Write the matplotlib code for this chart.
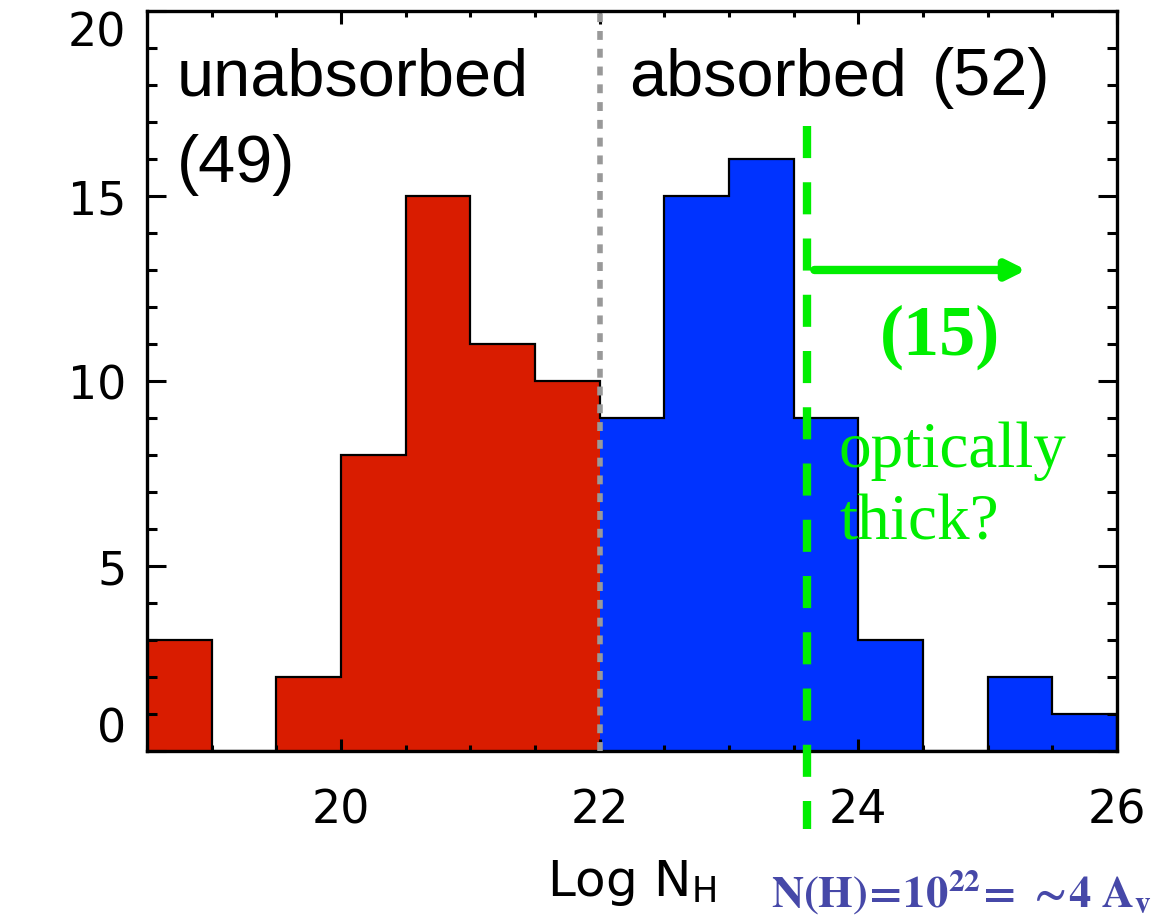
import numpy as np
import matplotlib
matplotlib.use('Agg')
import matplotlib.pyplot as plt
from matplotlib.ticker import MultipleLocator

# ---- histogram of log column density ----
edges = np.arange(18.5, 26.01, 0.5)
counts_unabs = [3, 0, 2, 8, 15, 11, 10]          # 18.5 - 22.0
counts_abs = [9, 15, 16, 9, 3, 0, 2, 1]          # 22.0 - 26.0
n_unabs, n_abs, n_thick = 49, 52, 15

split = 22.0          # absorbed / unabsorbed boundary
thick_line = 23.6     # N(H) where optical thickness is expected
arrow_y = 13.0
arrow_x_end = 25.3

RED = '#D91C00'
BLUE = '#0033FF'
GREEN = '#00EE00'
NAVY = '#4648A8'

plt.rcParams['mathtext.fontset'] = 'stix'

fig = plt.figure(figsize=(11.65, 9.2), dpi=100)
ax = fig.add_axes([0.1262, 0.1826, 0.8326, 0.8044])

n_red = len(counts_unabs)
ax.stairs(counts_unabs, edges[:n_red + 1], fill=True, color=RED, lw=0)
ax.stairs(counts_abs, edges[n_red:], fill=True, color=BLUE, lw=0)
ax.stairs(counts_unabs + counts_abs, edges, color='black', lw=1.6, baseline=0)

ax.set_xlim(18.5, 26.0)
ax.set_ylim(0, 20)

ax.xaxis.set_major_locator(MultipleLocator(2))
ax.xaxis.set_minor_locator(MultipleLocator(0.5))
ax.yaxis.set_major_locator(MultipleLocator(5))
ax.yaxis.set_minor_locator(MultipleLocator(1))
ax.tick_params(axis='both', which='both', direction='in', top=True, right=True,
               width=2.2, color='black')
ax.tick_params(axis='x', which='major', length=9, pad=26, labelsize=33)
ax.tick_params(axis='x', which='minor', length=4.5)
ax.tick_params(axis='y', which='major', length=14, pad=15, labelsize=33)
ax.tick_params(axis='y', which='minor', length=7.5)
for sp in ax.spines.values():
    sp.set_linewidth(2.4)

ax.set_xlabel(r'Log N$_\mathregular{H}$', fontsize=36)
ax.xaxis.label.set_va('baseline')
ax.xaxis.set_label_coords(0.5, -0.195)

# boundary between the two populations
ax.axvline(split, color='#999999', lw=4, ls=(0, (1.6, 1.6)), zorder=5)

# optically thick threshold, running below the axis
ax.plot([thick_line, thick_line], [16.9, -2.1], color=GREEN, lw=6,
        ls=(0, (3.85, 2.9)), clip_on=False, zorder=6)
ax.annotate('', xy=(arrow_x_end, arrow_y), xytext=(23.66, arrow_y),
            arrowprops=dict(arrowstyle='-|>,head_length=1.1,head_width=0.55',
                            color=GREEN, lw=6, shrinkA=0, shrinkB=0), zorder=6)

ax.text(18.73, 17.75, 'unabsorbed', fontsize=48, family='Liberation Sans',
        va='baseline', ha='left')
ax.text(18.73, 15.4, f'({n_unabs})', fontsize=48, family='Liberation Sans',
        va='baseline', ha='left')
ax.text(22.23, 17.75, 'absorbed', fontsize=48, family='Liberation Sans',
        va='baseline', ha='left')
ax.text(24.57, 17.75, f'({n_abs})', fontsize=48, family='Liberation Sans',
        va='baseline', ha='left')

ax.text(24.63, 11.2, f'({n_thick})', fontsize=52, family='Liberation Serif',
        weight='bold', color=GREEN, ha='center', va='center', zorder=7)
ax.text(23.85, 7.7, 'optically', fontsize=47, family='Liberation Serif',
        color=GREEN, ha='left', va='baseline', zorder=7)
ax.text(23.85, 5.73, 'thick?', fontsize=47, family='Liberation Serif',
        color=GREEN, ha='left', va='baseline', zorder=7)

fig.text(0.825, 0.014, r'$\mathbf{N(H)\!=\!10^{22}\!=\,\sim\!4\ A_{v}}$',
         fontsize=32, color=NAVY, ha='center', va='baseline')

# keep the end labels of the y axis inside the frame
fig.canvas.draw()
for tick in ax.yaxis.get_major_ticks():
    if np.isclose(tick.get_loc(), 0):
        tick.label1.set_va('bottom')
    elif np.isclose(tick.get_loc(), 20):
        tick.label1.set_va('top')

fig.savefig('out.png', dpi=100)
